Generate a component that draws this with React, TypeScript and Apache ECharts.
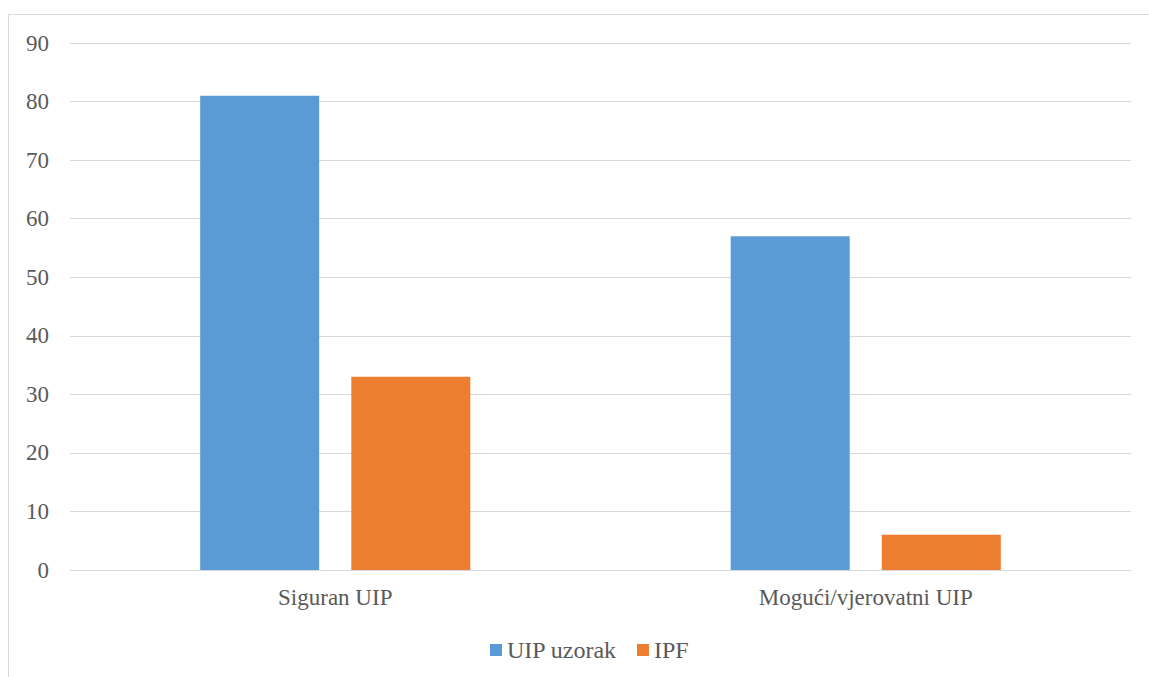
import React, { useEffect, useRef } from "react";
import * as echarts from "echarts";

const categories = ["Siguran UIP", "Mogući/vjerovatni UIP"];
const uipUzorak = [81, 57];
const ipf = [33, 6];
const seriesNames = ["UIP uzorak", "IPF"];

export default function App() {
  const ref = useRef<HTMLDivElement>(null);
  useEffect(() => {
    document.body.style.margin = "0";
    const chart = echarts.init(ref.current!, null, { renderer: "svg" });
    const font = "Liberation Serif";
    chart.setOption({
      animation: false,
      textStyle: { fontFamily: font },
      graphic: [
        {
          type: "rect",
          shape: { x: 8.5, y: 14.5, width: 1160, height: 700 },
          style: { fill: "none", stroke: "#d9d9d9", lineWidth: 1 },
          silent: true,
        },
      ],
      grid: { left: 70, right: 18, top: 43, bottom: 107 },
      legend: {
        bottom: 10,
        left: 485,
        itemWidth: 12,
        itemHeight: 12,
        itemGap: 20,
        icon: "rect",
        textStyle: { fontFamily: font, fontSize: 24, color: "#595959" },
        data: seriesNames,
      },
      xAxis: {
        type: "category",
        data: categories,
        axisLine: { lineStyle: { color: "#d9d9d9", width: 1 } },
        axisTick: { show: false },
        axisLabel: { fontFamily: font, fontSize: 23, color: "#595959", margin: 16 },
      },
      yAxis: {
        type: "value",
        min: 0,
        max: 90,
        interval: 10,
        axisLine: { show: false },
        axisTick: { show: false },
        splitLine: { lineStyle: { color: "#d9d9d9", width: 1 } },
        axisLabel: { fontFamily: font, fontSize: 23, color: "#595959", margin: 21 },
      },
      series: [
        { name: seriesNames[0], type: "bar", data: uipUzorak, barWidth: 119, barGap: "27%", itemStyle: { color: "#5b9bd5" } },
        { name: seriesNames[1], type: "bar", data: ipf, barWidth: 119, itemStyle: { color: "#ed7d31" } },
      ],
    });
    return () => chart.dispose();
  }, []);
  return <div ref={ref} style={{ width: 1149, height: 677 }} />;
}
